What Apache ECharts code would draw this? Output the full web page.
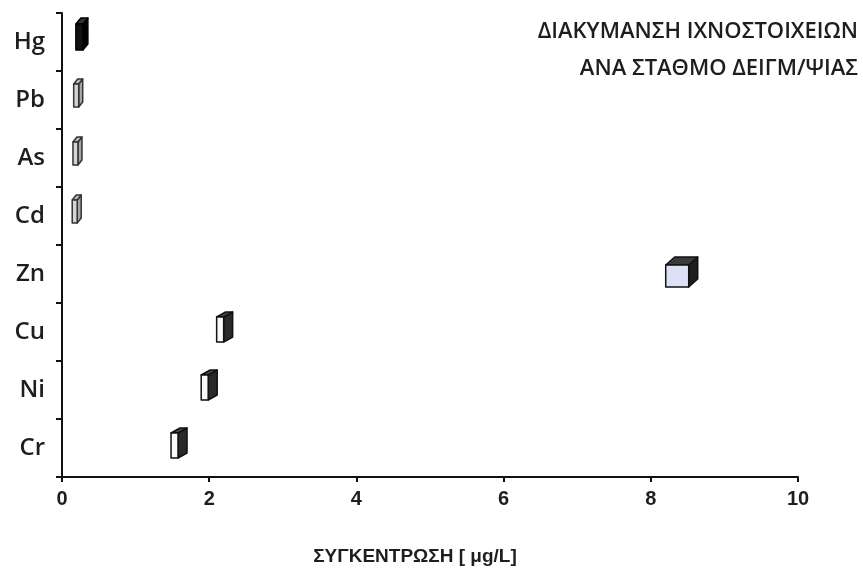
<!DOCTYPE html>
<html>
<head>
<meta charset="utf-8">
<script src="https://cdn.jsdelivr.net/npm/echarts@6/dist/echarts.min.js"></script>
<style>html,body{margin:0;padding:0;background:#fff;}#c{width:863px;height:572px;}</style>
</head>
<body>
<div id="c"></div>
<script>
const categories = ['Hg', 'Pb', 'As', 'Cd', 'Zn', 'Cu', 'Ni', 'Cr'];
const values = [0.27, 0.22, 0.21, 0.2, 8.42, 2.21, 2.0, 1.59];
const markerKinds = ['dark', 'hatch', 'hatch', 'hatch', 'cube', 'box', 'box', 'box'];
const xTicks = [0, 2, 4, 6, 8, 10];
const titleLines = ['ΔΙΑΚΥΜΑΝΣΗ ΙΧΝΟΣΤΟΙΧΕΙΩΝ', 'ΑΝΑ ΣΤΑΘΜΟ ΔΕΙΓΜ/ΨΙΑΣ'];
const xName = 'ΣΥΓΚΕΝΤΡΩΣΗ [ μg/L]';

const kindStyle = {
  dark:  { w: 7,  h: 26, dx: 5, dy: 6, front: '#111', side: '#000', top: '#333', stroke: '#000', shift: 8 },
  hatch: { w: 5,  h: 23, dx: 4, dy: 5, front: '#d4d4d4', side: '#a8a8a8', top: '#bdbdbd', stroke: '#333', shift: 7 },
  box:   { w: 7,  h: 25, dx: 9, dy: 5, front: '#fafafa', side: '#2a2a2a', top: '#4a4a4a', stroke: '#111', shift: 5 },
  cube:  { w: 23, h: 22, dx: 9, dy: 8, front: '#dde1f6', side: '#1e1e1e', top: '#3a3a3a', stroke: '#111', shift: 2 }
};

const data = values.map((v, i) => [v, i, markerKinds[i]]);

const chart = echarts.init(document.getElementById('c'));
chart.setOption({
  backgroundColor: '#fff',
  animation: false,
  graphic: titleLines.map((t, i) => ({
    type: 'text', right: 5, top: 21 + i * 37,
    style: { text: t, fontFamily: 'Open Sans', fontWeight: 600, fontSize: 22, fill: '#1e1e1e' }
  })),
  grid: { left: 62, right: 65, top: 13, bottom: 95 },
  xAxis: {
    type: 'value', min: 0, max: 10, interval: 2,
    name: xName, nameLocation: 'middle', nameGap: 70,
    nameTextStyle: { fontFamily: 'Liberation Sans', fontWeight: 'bold', fontSize: 19, color: '#1e1e1e', padding: [0, 30, 0, 0] },
    axisLine: { show: true, lineStyle: { color: '#111', width: 2 } },
    axisTick: { show: true, length: 5, lineStyle: { color: '#111', width: 2 } },
    axisLabel: { margin: 12, fontFamily: 'Liberation Sans', fontWeight: 'bold', fontSize: 20, color: '#1e1e1e',
      formatter: v => xTicks.indexOf(v) >= 0 ? String(v) : '' },
    splitLine: { show: false }
  },
  yAxis: {
    type: 'category', data: categories, inverse: true, boundaryGap: true,
    axisLine: { show: true, lineStyle: { color: '#111', width: 2 } },
    axisTick: { show: true, length: 6, lineStyle: { color: '#111', width: 2 } },
    axisLabel: { margin: 17, fontFamily: 'Open Sans', fontWeight: 600, fontSize: 24, color: '#1e1e1e' },
    splitLine: { show: false }
  },
  series: [{
    type: 'custom',
    data: data,
    encode: { x: 0, y: 1 },
    renderItem: function (params, api) {
      const p = api.coord([api.value(0), api.value(1)]);
      const s = kindStyle[markerKinds[params.dataIndex]];
      const totalW = s.w + s.dx, totalH = s.h + s.dy;
      const left = p[0] - totalW / 2;
      const topY = p[1] - totalH / 2 - s.shift;
      const fx = left, fy = topY + s.dy;
      const front = [[fx, fy], [fx + s.w, fy], [fx + s.w, fy + s.h], [fx, fy + s.h]];
      const top = [[fx, fy], [fx + s.dx, fy - s.dy], [fx + s.w + s.dx, fy - s.dy], [fx + s.w, fy]];
      const side = [[fx + s.w, fy], [fx + s.w + s.dx, fy - s.dy], [fx + s.w + s.dx, fy + s.h - s.dy], [fx + s.w, fy + s.h]];
      const st = (fill) => ({ fill: fill, stroke: s.stroke, lineWidth: 1.5, lineJoin: 'round' });
      return {
        type: 'group',
        children: [
          { type: 'polygon', shape: { points: side }, style: st(s.side) },
          { type: 'polygon', shape: { points: top }, style: st(s.top) },
          { type: 'polygon', shape: { points: front }, style: st(s.front) }
        ]
      };
    }
  }]
});
</script>
</body>
</html>
